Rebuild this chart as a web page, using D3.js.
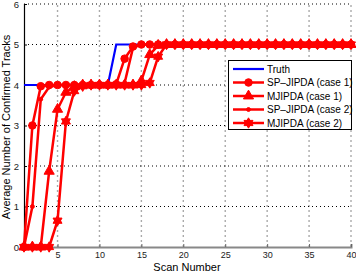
<!DOCTYPE html>
<html>
<head>
<meta charset="utf-8">
<script src="https://cdn.jsdelivr.net/npm/d3@7"></script>
<style>
  body { margin: 0; background: #fff; }
  text { font-family: "Liberation Sans", Arial, sans-serif; }
</style>
</head>
<body>
<script>
// scan numbers and series
var scans = d3.range(1, 41);
var truth = [4,4,4,4,4,4,4,4,4,4,4,5,5,5,5,5,5,5,5,5,5,5,5,5,5,5,5,5,5,5,5,5,5,5,5,5,5,5,5,5];
var spCase1 = [0,3.0,3.97,4,4,4,4,4,4,4,4,4.02,4.65,4.95,5,5,5,5,5,5,5,5,5,5,5,5,5,5,5,5,5,5,5,5,5,5,5,5,5,5];
var mjCase1 = [0,0,0,1.87,3.4,3.82,3.96,4,4,4,4,4,4,4,4.1,4.75,4.98,5,5,5,5,5,5,5,5,5,5,5,5,5,5,5,5,5,5,5,5,5,5,5];
var spCase2 = [0,1.0,3.65,3.95,4,4,4,4,4,4,4,4,4.05,4.92,5,5,5,5,5,5,5,5,5,5,5,5,5,5,5,5,5,5,5,5,5,5,5,5,5,5];
var mjCase2 = [0,0,0,0,0.65,3.1,3.85,3.97,4,4,4,4,4,4,4,4.05,4.7,5,5,5,5,5,5,5,5,5,5,5,5,5,5,5,5,5,5,5,5,5,5,5];
var xTicks = [5,10,15,20,25,30,35,40];
var yTicks = [0,1,2,3,4,5,6];
var legendNames = ["Truth", "SP\u2013JIPDA (case 1)", "MJIPDA (case 1)", "SP\u2013JIPDA (case 2)", "MJIPDA (case 2)"];

var width = 356, height = 272;
var svg = d3.select("body").append("svg")
    .attr("width", width)
    .attr("height", height);

var x = d3.scaleLinear().domain([1, 40]).range([24, 351]);
var y = d3.scaleLinear().domain([0, 6]).range([247, 4]);

// grid
svg.append("g").selectAll("line")
    .data(xTicks)
  .enter().append("line")
    .attr("x1", function(d) { return x(d); })
    .attr("x2", function(d) { return x(d); })
    .attr("y1", y(0)).attr("y2", y(6))
    .attr("stroke", "#aaa").attr("stroke-width", 1.4)
    .attr("stroke-dasharray", "2,3");
svg.append("g").selectAll("line")
    .data(yTicks.slice(1))
  .enter().append("line")
    .attr("x1", x(1)).attr("x2", x(40))
    .attr("y1", function(d) { return y(d); })
    .attr("y2", function(d) { return y(d); })
    .attr("stroke", "#000").attr("stroke-width", 1)
    .attr("stroke-dasharray", "1,3");

// axes
var xAxis = svg.append("g")
    .attr("transform", "translate(0," + y(0) + ")")
    .call(d3.axisBottom(x).tickValues(xTicks).tickFormat(d3.format("d")).tickSize(-3).tickPadding(5));
xAxis.select(".domain").attr("stroke", "#888").attr("stroke-width", 2);
xAxis.selectAll(".tick line").attr("stroke", "#666");
xAxis.selectAll("text").attr("font-size", 9).attr("fill", "#222")
    .style("font-family", "Liberation Sans, Arial, sans-serif");

var yAxis = svg.append("g")
    .attr("transform", "translate(" + x(1) + ",0)")
    .call(d3.axisLeft(y).tickValues(yTicks).tickFormat(d3.format("d")).tickSize(-3).tickPadding(5));
yAxis.select(".domain").attr("stroke", "#000").attr("stroke-width", 1.2);
yAxis.selectAll("text").attr("font-size", 9.5).attr("fill", "#222")
    .style("font-family", "Liberation Sans, Arial, sans-serif");

svg.append("text")
    .attr("x", 187).attr("y", 271)
    .attr("text-anchor", "middle")
    .attr("font-size", 11)
    .text("Scan Number");
svg.append("text")
    .attr("transform", "translate(10,127) rotate(-90)")
    .attr("text-anchor", "middle")
    .attr("font-size", 11)
    .text("Average Number of Confirmed Tracks");

// marker shapes
var hexagram = {
  draw: function(ctx, size) {
    var r = Math.sqrt(size) * 0.62;
    for (var k = 0; k < 2; k++) {
      for (var i = 0; i < 3; i++) {
        var a = (k * 60 + i * 120 - 90) * Math.PI / 180;
        var px = r * Math.cos(a), py = r * Math.sin(a);
        if (i === 0) ctx.moveTo(px, py); else ctx.lineTo(px, py);
      }
      ctx.closePath();
    }
  }
};

var series = [
  {values: truth, color: "#0000ff", width: 2.2, symbol: null, size: 0},
  {values: spCase1, color: "#ff0000", width: 2.5, symbol: d3.symbolCircle, size: 45},
  {values: mjCase1, color: "#ff0000", width: 2.5, symbol: d3.symbolTriangle, size: 45},
  {values: spCase2, color: "#ff0000", width: 2.5, symbol: d3.symbolCircle, size: 12},
  {values: mjCase2, color: "#ff0000", width: 2.5, symbol: hexagram, size: 70}
];

var line = d3.line()
    .x(function(d, i) { return x(scans[i]); })
    .y(function(d) { return y(d); });

series.forEach(function(s) {
  svg.append("path")
      .datum(s.values)
      .attr("d", line)
      .attr("fill", "none")
      .attr("stroke", s.color)
      .attr("stroke-width", s.width);
  if (s.symbol) {
    svg.append("g").selectAll("path")
        .data(s.values)
      .enter().append("path")
        .attr("transform", function(d, i) { return "translate(" + x(scans[i]) + "," + y(d) + ")"; })
        .attr("d", d3.symbol().type(s.symbol).size(s.size))
        .attr("fill", s.color)
        .attr("stroke", s.color)
        .attr("stroke-width", 1);
  }
});

// legend
var lg = svg.append("g");
lg.append("rect")
    .attr("x", 228.5).attr("y", 60.5)
    .attr("width", 123).attr("height", 69)
    .attr("fill", "#fff").attr("stroke", "#000").attr("stroke-width", 1);
var rowY = [69, 82.5, 96, 109.5, 123];
series.forEach(function(s, i) {
  lg.append("line")
      .attr("x1", 233).attr("x2", 264)
      .attr("y1", rowY[i]).attr("y2", rowY[i])
      .attr("stroke", s.color).attr("stroke-width", s.width);
  if (s.symbol) {
    lg.append("path")
        .attr("transform", "translate(248.5," + rowY[i] + ")")
        .attr("d", d3.symbol().type(s.symbol).size(s.size))
        .attr("fill", s.color).attr("stroke", s.color);
  }
  lg.append("text")
      .attr("x", 267).attr("y", rowY[i] + 3.5)
      .attr("font-size", 10)
      .text(legendNames[i]);
});
</script>
</body>
</html>
